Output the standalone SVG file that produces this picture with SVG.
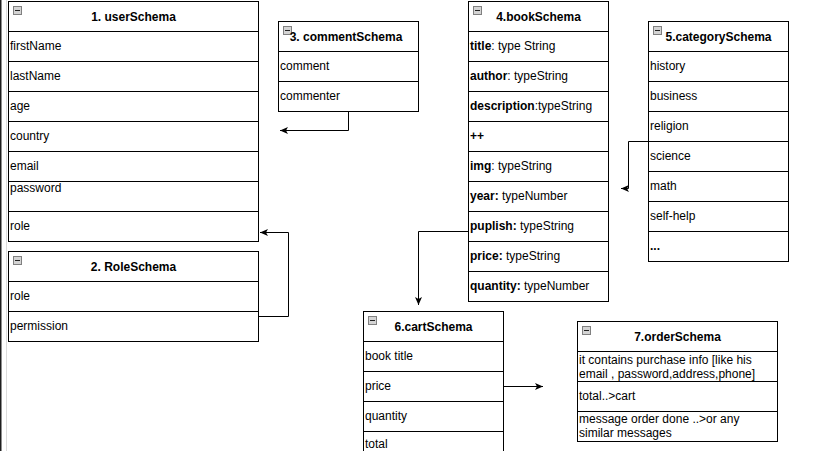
<svg xmlns="http://www.w3.org/2000/svg" width="816" height="451" viewBox="0 0 816 451">
<style>
.box{fill:#fff;stroke:#000;stroke-width:1}
.sep{stroke:#000;stroke-width:1;fill:none}
.t{font-family:"Liberation Sans",Arial,sans-serif;font-size:12px;fill:#000}
.h{font-family:"Liberation Sans",Arial,sans-serif;font-size:12px;font-weight:bold;fill:#000;text-anchor:middle}
.b{font-weight:bold}
.conn{fill:none;stroke:#000;stroke-width:1}
</style>
<defs>
<g id="icon">
<rect x="0.5" y="0.5" width="8" height="8" fill="#d4d4d4" stroke="#808080" stroke-width="1"/>
<line x1="2" y1="4.5" x2="7" y2="4.5" stroke="#222" stroke-width="1"/>
</g>
<marker id="arr" markerUnits="userSpaceOnUse" markerWidth="9" markerHeight="8" refX="8" refY="3.5" orient="auto">
<path d="M0,0 L8,3.5 L0,7 L2,3.5 Z" fill="#000"/>
</marker>
</defs>
<rect width="816" height="451" fill="#fff"/>
<rect x="0" y="0" width="1.5" height="451" fill="#1e1e1e"/>
<line x1="6.5" y1="0" x2="6.5" y2="451" stroke="#dcdcdc" stroke-width="1"/>

<g id="connectors">
<path class="conn" d="M258.5,316.5 H288.5 V232.5 H260" marker-end="url(#arr)"/>
<path class="conn" d="M348.5,111.5 V130.5 H280" marker-end="url(#arr)"/>
<path class="conn" d="M468.5,231.5 H418.5 V305" marker-end="url(#arr)"/>
<path class="conn" d="M648.5,141.5 H628.5 V188.5 H621" marker-end="url(#arr)"/>
<path class="conn" d="M503.5,386.5 H543" marker-end="url(#arr)"/>
</g>

<g id="userSchema">
<rect class="box" x="8.5" y="1.5" width="250" height="240"/>
<path class="sep" d="M8.5,31.5H258.5M8.5,61.5H258.5M8.5,91.5H258.5M8.5,121.5H258.5M8.5,151.5H258.5M8.5,181.5H258.5M8.5,211.5H258.5"/>
<use href="#icon" x="13" y="6"/>
<text class="h" x="133.5" y="20.5">1. userSchema</text>
<text class="t" x="10" y="50">firstName</text>
<text class="t" x="10" y="80">lastName</text>
<text class="t" x="10" y="110">age</text>
<text class="t" x="10" y="140">country</text>
<text class="t" x="10" y="170">email</text>
<text class="t" x="10" y="192">password</text>
<text class="t" x="10" y="230">role</text>
</g>

<g id="roleSchema">
<rect class="box" x="8.5" y="251.5" width="250" height="90"/>
<path class="sep" d="M8.5,281.5H258.5M8.5,311.5H258.5"/>
<use href="#icon" x="13" y="256"/>
<text class="h" x="133.5" y="270.5">2. RoleSchema</text>
<text class="t" x="10" y="300">role</text>
<text class="t" x="10" y="330">permission</text>
</g>

<g id="commentSchema">
<rect class="box" x="278.5" y="21.5" width="140" height="90"/>
<path class="sep" d="M278.5,51.5H418.5M278.5,81.5H418.5"/>
<use href="#icon" x="283" y="26"/>
<text class="h" x="346" y="41">3. commentSchema</text>
<text class="t" x="280" y="70">comment</text>
<text class="t" x="280" y="100">commenter</text>
</g>

<g id="bookSchema">
<rect class="box" x="468.5" y="1.5" width="140" height="300"/>
<path class="sep" d="M468.5,31.5H608.5M468.5,61.5H608.5M468.5,91.5H608.5M468.5,121.5H608.5M468.5,151.5H608.5M468.5,181.5H608.5M468.5,211.5H608.5M468.5,241.5H608.5M468.5,271.5H608.5"/>
<use href="#icon" x="473" y="6"/>
<text class="h" x="538.5" y="20.5">4.bookSchema</text>
<text class="t" x="470" y="50"><tspan class="b">title</tspan>: type String</text>
<text class="t" x="470" y="80"><tspan class="b">author</tspan>: typeString</text>
<text class="t" x="470" y="110"><tspan class="b">description</tspan>:typeString</text>
<text class="t" x="470" y="140"><tspan class="b">++</tspan></text>
<text class="t" x="470" y="170"><tspan class="b">img</tspan>: typeString</text>
<text class="t" x="470" y="200"><tspan class="b">year:</tspan> typeNumber</text>
<text class="t" x="470" y="230"><tspan class="b">puplish:</tspan> typeString</text>
<text class="t" x="470" y="260"><tspan class="b">price:</tspan> typeString</text>
<text class="t" x="470" y="290"><tspan class="b">quantity:</tspan> typeNumber</text>
</g>

<g id="categorySchema">
<rect class="box" x="648.5" y="21.5" width="140" height="240"/>
<path class="sep" d="M648.5,51.5H788.5M648.5,81.5H788.5M648.5,111.5H788.5M648.5,141.5H788.5M648.5,171.5H788.5M648.5,201.5H788.5M648.5,231.5H788.5"/>
<use href="#icon" x="653" y="26"/>
<text class="h" x="718.5" y="41">5.categorySchema</text>
<text class="t" x="650" y="70">history</text>
<text class="t" x="650" y="100">business</text>
<text class="t" x="650" y="130">religion</text>
<text class="t" x="650" y="160">science</text>
<text class="t" x="650" y="190">math</text>
<text class="t" x="650" y="220">self-help</text>
<text class="t b" x="650" y="250">...</text>
</g>

<g id="cartSchema">
<rect class="box" x="363.5" y="311.5" width="140" height="150"/>
<path class="sep" d="M363.5,341.5H503.5M363.5,371.5H503.5M363.5,401.5H503.5M363.5,431.5H503.5"/>
<use href="#icon" x="368" y="316"/>
<text class="h" x="433.5" y="331">6.cartSchema</text>
<text class="t" x="365" y="360">book title</text>
<text class="t" x="365" y="390">price</text>
<text class="t" x="365" y="420">quantity</text>
<text class="t" x="365" y="448">total</text>
</g>

<g id="orderSchema">
<rect class="box" x="577.5" y="321.5" width="200" height="120"/>
<path class="sep" d="M577.5,351.5H777.5M577.5,381.5H777.5M577.5,411.5H777.5"/>
<use href="#icon" x="582" y="326"/>
<text class="h" x="677.5" y="341">7.orderSchema</text>
<text class="t" x="579" y="364">it contains purchase info [like his</text>
<text class="t" x="579" y="378">email , password,address,phone]</text>
<text class="t" x="579" y="400">total..&gt;cart</text>
<text class="t" x="579" y="423">message order done ..&gt;or any</text>
<text class="t" x="579" y="437">similar messages</text>
</g>
</svg>
